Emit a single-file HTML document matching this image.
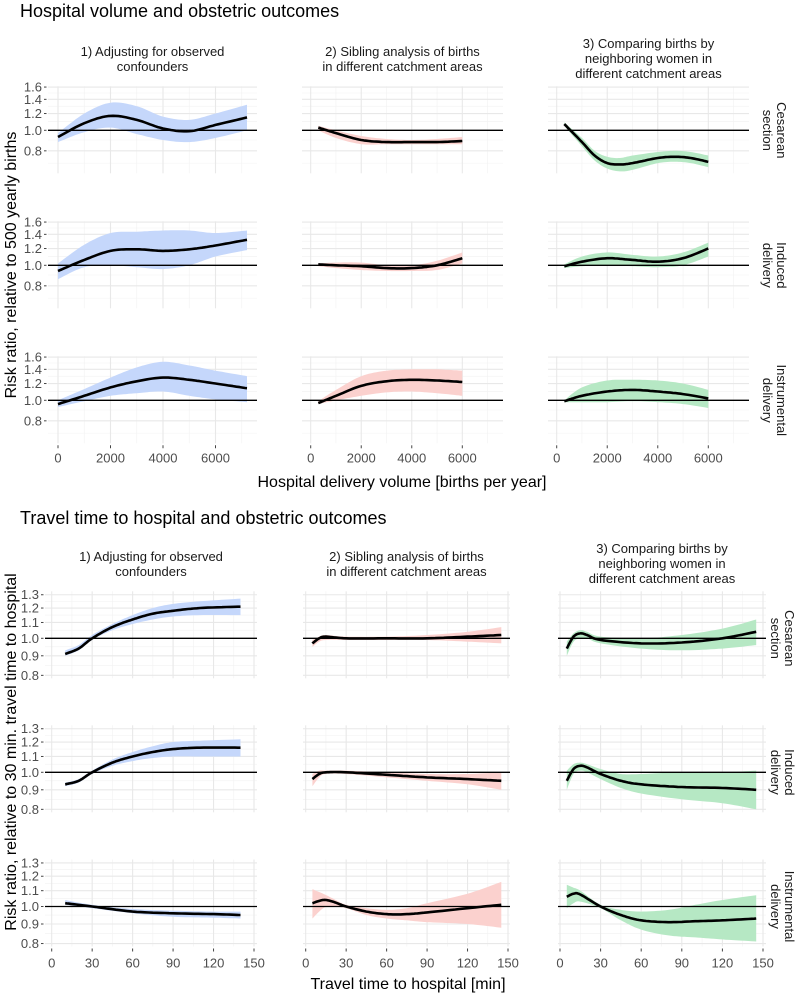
<!DOCTYPE html>
<html><head><meta charset="utf-8">
<style>
html,body{margin:0;padding:0;background:#fff;}
svg{display:block;font-family:"Liberation Sans",Arial,sans-serif;}
</style></head>
<body>
<svg id="chart" width="800" height="993" viewBox="0 0 800 993" xmlns="http://www.w3.org/2000/svg">
<text x="20" y="17" font-size="18" fill="#000">Hospital volume and obstetric outcomes</text>
<text x="20" y="524" font-size="18" fill="#000">Travel time to hospital and obstetric outcomes</text>
<text transform="translate(16,265) rotate(-90)" text-anchor="middle" font-size="16">Risk ratio, relative to 500 yearly births</text>
<text transform="translate(16,752) rotate(-90)" text-anchor="middle" font-size="16">Risk ratio, relative to 30 min. travel time to hospital</text>
<text x="402" y="487" text-anchor="middle" font-size="16">Hospital delivery volume [births per year]</text>
<text x="408" y="989" text-anchor="middle" font-size="16">Travel time to hospital [min]</text>
<g id="panels"></g>
</svg>
<script>
// ---------- data: hospital volume ----------
const volX1 = [0,1000,2000,3000,4000,5000,6000,7200];
const volCesAdjEst = [0.93,1.08,1.17,1.12,1.02,0.99,1.06,1.15];
const volCesAdjLo  = [0.88,0.98,1.03,0.96,0.90,0.88,0.92,1.00];
const volCesAdjHi  = [0.97,1.20,1.35,1.30,1.16,1.12,1.20,1.32];
const volIndAdjEst = [0.94,1.06,1.17,1.19,1.17,1.19,1.24,1.32];
const volIndAdjLo  = [0.86,0.98,1.00,0.98,0.96,1.00,1.10,1.18];
const volIndAdjHi  = [1.02,1.25,1.42,1.44,1.46,1.46,1.42,1.46];
const volInsAdjEst = [0.96,1.05,1.15,1.23,1.28,1.25,1.20,1.14];
const volInsAdjLo  = [0.93,0.99,1.05,1.08,1.10,1.05,1.01,0.98];
const volInsAdjHi  = [1.00,1.13,1.28,1.43,1.52,1.46,1.38,1.30];
const volX2 = [300,1000,2000,3000,4000,5000,6000];
const volCesSibEst = [1.03,0.97,0.90,0.88,0.88,0.88,0.89];
const volCesSibLo  = [1.00,0.92,0.86,0.86,0.86,0.86,0.86];
const volCesSibHi  = [1.05,1.00,0.94,0.91,0.90,0.91,0.93];
const volIndSibEst = [1.01,1.00,0.99,0.97,0.97,1.00,1.08];
const volIndSibLo  = [0.99,0.97,0.95,0.94,0.94,0.95,1.02];
const volIndSibHi  = [1.02,1.03,1.03,1.00,1.00,1.05,1.15];
const volInsSibEst = [0.97,1.05,1.17,1.23,1.25,1.24,1.22];
const volInsSibLo  = [0.96,1.00,1.05,1.09,1.10,1.08,1.05];
const volInsSibHi  = [0.99,1.12,1.30,1.38,1.40,1.40,1.38];
const volX3 = [300,1000,1500,2000,2500,3000,4000,4700,5300,6000];
const volCesNbEst = [1.07,0.88,0.76,0.70,0.69,0.70,0.74,0.75,0.74,0.71];
const volCesNbLo  = [1.05,0.84,0.72,0.66,0.64,0.65,0.70,0.71,0.70,0.67];
const volCesNbHi  = [1.09,0.92,0.80,0.75,0.74,0.76,0.79,0.80,0.79,0.76];
const volX3b = [300,1000,2000,3000,4000,5000,6000];
const volIndNbEst = [0.99,1.04,1.08,1.06,1.04,1.08,1.20];
const volIndNbLo  = [0.97,0.99,1.00,0.99,0.98,1.00,1.10];
const volIndNbHi  = [1.01,1.10,1.15,1.12,1.10,1.15,1.28];
const volInsNbEst = [0.99,1.05,1.10,1.12,1.10,1.07,1.02];
const volInsNbLo  = [0.98,0.98,0.98,0.99,0.98,0.96,0.92];
const volInsNbHi  = [1.00,1.15,1.24,1.25,1.24,1.20,1.12];
// ---------- data: travel time ----------
const ttX1 = [10,20,30,45,60,75,90,110,140];
const ttCesAdjEst = [0.91,0.94,1.00,1.07,1.12,1.16,1.18,1.20,1.21];
const ttCesAdjLo  = [0.90,0.93,0.99,1.05,1.09,1.12,1.14,1.15,1.15];
const ttCesAdjHi  = [0.93,0.96,1.02,1.09,1.15,1.20,1.23,1.25,1.27];
const ttIndAdjEst = [0.93,0.95,1.00,1.06,1.10,1.13,1.15,1.16,1.16];
const ttIndAdjLo  = [0.92,0.94,0.99,1.04,1.07,1.09,1.10,1.10,1.10];
const ttIndAdjHi  = [0.94,0.96,1.01,1.08,1.13,1.17,1.20,1.21,1.22];
const ttX1b = [10,30,60,90,120,140];
const ttInsAdjEst = [1.02,1.00,0.97,0.96,0.955,0.95];
const ttInsAdjLo  = [1.01,0.99,0.96,0.94,0.935,0.93];
const ttInsAdjHi  = [1.04,1.01,0.985,0.975,0.97,0.97];
const ttX2 = [5,10,15,30,60,90,120,145];
const ttCesSibEst = [0.97,1.00,1.01,1.00,1.00,1.00,1.01,1.02];
const ttCesSibLo  = [0.95,0.98,0.99,0.99,0.99,0.99,0.98,0.97];
const ttCesSibHi  = [0.99,1.01,1.02,1.01,1.01,1.02,1.04,1.07];
const ttIndSibEst = [0.96,0.99,1.00,1.00,0.985,0.97,0.96,0.95];
const ttIndSibLo  = [0.92,0.97,0.99,0.99,0.97,0.95,0.93,0.90];
const ttIndSibHi  = [0.99,1.01,1.01,1.01,1.00,0.99,0.99,1.00];
const ttX2b = [5,13,20,30,45,60,75,90,120,145];
const ttInsSibEst = [1.02,1.04,1.03,1.00,0.97,0.955,0.955,0.965,0.99,1.01];
const ttInsSibLo  = [0.93,0.99,1.00,0.99,0.95,0.93,0.92,0.91,0.90,0.88];
const ttInsSibHi  = [1.11,1.08,1.05,1.01,0.99,0.98,0.99,1.02,1.08,1.16];
const ttX3 = [5,10,15,20,30,60,90,120,145];
const ttCesNbEst = [0.94,1.01,1.03,1.02,0.99,0.97,0.975,1.00,1.04];
const ttCesNbLo  = [0.90,0.98,1.00,1.00,0.97,0.94,0.93,0.94,0.96];
const ttCesNbHi  = [0.98,1.03,1.05,1.04,1.01,1.00,1.02,1.06,1.12];
const ttX3b = [5,10,15,20,30,45,60,90,120,145];
const ttIndNbEst = [0.95,1.02,1.04,1.03,0.99,0.95,0.93,0.915,0.91,0.90];
const ttIndNbLo  = [0.90,0.99,1.01,1.00,0.96,0.91,0.88,0.85,0.83,0.80];
const ttIndNbHi  = [1.01,1.05,1.06,1.05,1.02,0.99,0.99,1.00,1.00,1.01];
const ttX3c = [5,10,15,30,45,60,80,100,120,145];
const ttInsNbEst = [1.06,1.08,1.075,1.00,0.95,0.92,0.91,0.915,0.92,0.93];
const ttInsNbLo  = [0.99,1.02,1.03,0.99,0.92,0.87,0.84,0.83,0.82,0.81];
const ttInsNbHi  = [1.14,1.12,1.10,1.01,0.98,0.97,0.98,1.01,1.04,1.07];

const colHeaders = [["1) Adjusting for observed","confounders"],["2) Sibling analysis of births","in different catchment areas"],["3) Comparing births by","neighboring women in","different catchment areas"]];
const rowLabels = [["Cesarean","section"],["Induced","delivery"],["Instrumental","delivery"]];
const volXTicks = [0,2000,4000,6000];
const volXMinor = [1000,3000,5000,7000];
const volYTicks = [0.8,1.0,1.2,1.4,1.6];
const volYMinor = [0.7,0.9,1.1,1.3,1.5];
const ttXTicks = [0,30,60,90,120,150];
const ttXMinor = [15,45,75,105,135];
const ttYTicks = [0.8,0.9,1.0,1.1,1.2,1.3];
const ttYMinor = [0.85,0.95,1.05,1.15,1.25];

const NS="http://www.w3.org/2000/svg";
const root=document.getElementById('panels');
function mk(tag,attrs,parent){const e=document.createElementNS(NS,tag);for(const k in attrs)e.setAttribute(k,attrs[k]);(parent||root).appendChild(e);return e;}

function smoothPts(xs,ys,sx,sy){
  const P=xs.map((x,i)=>[sx(x),sy(ys[i])]);
  const out=[];
  for(let i=0;i<P.length-1;i++){
    const p0=P[Math.max(0,i-1)],p1=P[i],p2=P[i+1],p3=P[Math.min(P.length-1,i+2)];
    for(let t=0;t<1;t+=0.1){
      const t2=t*t,t3=t2*t;
      const f=(a,b,c,d)=>0.5*((2*b)+(-a+c)*t+(2*a-5*b+4*c-d)*t2+(-a+3*b-3*c+d)*t3);
      out.push([f(p0[0],p1[0],p2[0],p3[0]),f(p0[1],p1[1],p2[1],p3[1])]);
    }
  }
  out.push(P[P.length-1]);
  return out;
}

const colors=["#c5d7fb","#fbd1ce","#b6e8c4"];

const sections=[
 {cols:[[48,257,0,7200,58,247],[302,503,0,6000,310.7,462.3],[548,749,0,6000,556.7,708.3]],
  rows:[130.3,265.3,400.3],up:44,down:43,ppl:92,xt:volXTicks,xm:volXMinor,yt:volYTicks,ym:volYMinor,
  yfmt:v=>v.toFixed(1),tickY:458,headY:56,stripX:772,name:'volume',
  data:[[[volX1,volCesAdjEst,volCesAdjLo,volCesAdjHi],[volX2,volCesSibEst,volCesSibLo,volCesSibHi],[volX3,volCesNbEst,volCesNbLo,volCesNbHi]],
        [[volX1,volIndAdjEst,volIndAdjLo,volIndAdjHi],[volX2,volIndSibEst,volIndSibLo,volIndSibHi],[volX3b,volIndNbEst,volIndNbLo,volIndNbHi]],
        [[volX1,volInsAdjEst,volInsAdjLo,volInsAdjHi],[volX2,volInsSibEst,volInsSibLo,volInsSibHi],[volX3b,volInsNbEst,volInsNbLo,volInsNbHi]]]},
 {cols:[[45,257,0,150,51.7,254],[303,510,0,150,305.7,508],[558,766,0,150,560,763]],
  rows:[638.3,772.3,906.5],up:47,down:40,ppl:166,xt:ttXTicks,xm:ttXMinor,yt:ttYTicks,ym:ttYMinor,
  yfmt:v=>v.toFixed(1),tickY:963,headY:561,stripX:780,name:'travel',
  data:[[[ttX1,ttCesAdjEst,ttCesAdjLo,ttCesAdjHi],[ttX2,ttCesSibEst,ttCesSibLo,ttCesSibHi],[ttX3,ttCesNbEst,ttCesNbLo,ttCesNbHi]],
        [[ttX1,ttIndAdjEst,ttIndAdjLo,ttIndAdjHi],[ttX2,ttIndSibEst,ttIndSibLo,ttIndSibHi],[ttX3b,ttIndNbEst,ttIndNbLo,ttIndNbHi]],
        [[ttX1b,ttInsAdjEst,ttInsAdjLo,ttInsAdjHi],[ttX2b,ttInsSibEst,ttInsSibLo,ttInsSibHi],[ttX3c,ttInsNbEst,ttInsNbLo,ttInsNbHi]]]}
];

sections.forEach(S=>{
  S.cols.forEach((c,ci)=>{
    const h=colHeaders[ci];
    const hy=S.headY-(h.length-2)*8;
    h.forEach((line,li)=>{
      const t=mk('text',{x:(c[0]+c[1])/2,y:hy+li*15,'text-anchor':'middle','font-size':'13',fill:'#1a1a1a'});
      
      
      t.textContent=line;
    });
  });
  S.rows.forEach((y1,ri)=>{
    const top=y1-S.up,bot=y1+S.down;
    const sy=v=>y1-Math.log(v)*S.ppl;
    const rl=rowLabels[ri];
    rl.forEach((line,li)=>{
      const t=mk('text',{transform:`translate(${S.stripX+(li===0?5:-9)},${y1}) rotate(90)`,'text-anchor':'middle','font-size':'13',fill:'#1a1a1a'});
      
      
      t.textContent=line;
    });
    S.cols.forEach((c,ci)=>{
      const [L,R,d0,d1,p0,p1]=c;
      const sx=v=>p0+(v-d0)*(p1-p0)/(d1-d0);
      const g=mk('g',{});
      
      
      S.ym.forEach(v=>{const y=sy(v);if(y>top&&y<bot)mk('line',{x1:L,x2:R,y1:y,y2:y,stroke:'#f2f2f2','stroke-width':0.6},g);});
      S.xm.forEach(v=>{const x=sx(v);if(x>L&&x<R)mk('line',{x1:x,x2:x,y1:top,y2:bot,stroke:'#f2f2f2','stroke-width':0.6},g);});
      S.yt.forEach(v=>{const y=sy(v);mk('line',{x1:L,x2:R,y1:y,y2:y,stroke:'#e8e8e8','stroke-width':1.1},g);});
      S.xt.forEach(v=>{const x=sx(v);mk('line',{x1:x,x2:x,y1:top,y2:bot,stroke:'#e8e8e8','stroke-width':1.1},g);});
      const [xs,est,lo,hi]=S.data[ri][ci];
      const up=smoothPts(xs,hi,sx,sy),dn=smoothPts(xs,lo,sx,sy).reverse();
      const band=mk('path',{d:'M'+up.concat(dn).map(p=>p[0].toFixed(1)+','+p[1].toFixed(1)).join('L')+'Z',fill:colors[ci]},g);
      
      
      const ref=mk('line',{x1:L,x2:R,y1:sy(1),y2:sy(1),stroke:'#000','stroke-width':1.3},g);
      
      
      const ep=smoothPts(xs,est,sx,sy);
      const line=mk('path',{d:'M'+ep.map(p=>p[0].toFixed(1)+','+p[1].toFixed(1)).join('L'),fill:'none',stroke:'#000','stroke-width':2.6,'stroke-linejoin':'round'},g);
      
      
      if(ci===0){
        S.yt.forEach(v=>{const y=sy(v);
          mk('line',{x1:L-4,x2:L-1.5,y1:y,y2:y,stroke:'#444','stroke-width':1},g);
          const t=mk('text',{x:L-6,y:y+4.5,'text-anchor':'end','font-size':'13',fill:'#4d4d4d'},g);
          
          
          t.textContent=S.yfmt(v);});
      }
      if(ri===2){
        S.xt.forEach(v=>{const x=sx(v);
          mk('line',{x1:x,x2:x,y1:bot+2,y2:bot+5,stroke:'#444','stroke-width':1},g);
          const t=mk('text',{x:x,y:S.tickY+4.5,'text-anchor':'middle','font-size':'13',fill:'#4d4d4d'},g);
          
          
          t.textContent=v;});
      }
    });
  });
});
</script>
</body></html>
